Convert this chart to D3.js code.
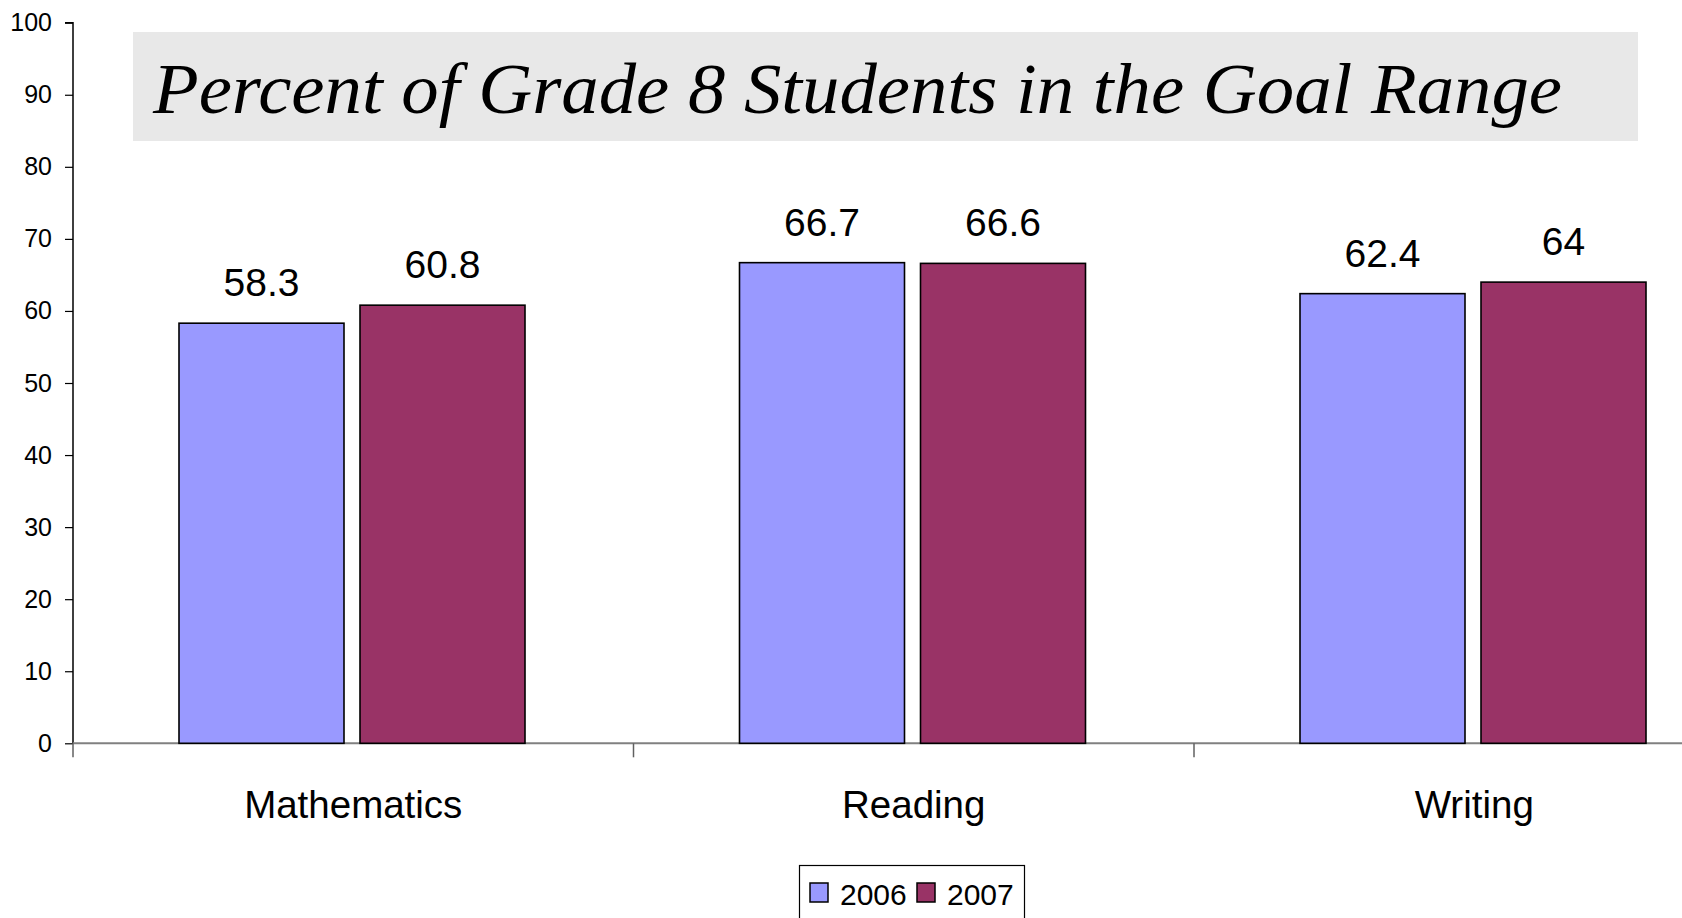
<!DOCTYPE html>
<html>
<head>
<meta charset="utf-8">
<script src="https://cdn.jsdelivr.net/npm/d3@7"></script>
<style>
  html, body { margin: 0; padding: 0; background: #fff; overflow: hidden; }
  svg { display: block; }
</style>
</head>
<body>
<svg id="chart" width="1682" height="918"></svg>
<script>
const categories = ["Mathematics", "Reading", "Writing"];
const seriesNames = ["2006", "2007"];
const values2006 = [58.3, 66.7, 62.4];
const values2007 = [60.8, 66.6, 64];
const valueLabels2006 = ["58.3", "66.7", "62.4"];
const valueLabels2007 = ["60.8", "66.6", "64"];
const yTicks = [0, 10, 20, 30, 40, 50, 60, 70, 80, 90, 100];
const colors = ["#9999FF", "#993366"];
const titleText = "Percent of Grade 8 Students in the Goal Range";

const svg = d3.select("#chart");
const x0 = 73, bandW = 560.5;
const x = d3.scaleBand().domain(categories).range([x0, x0 + bandW * categories.length]).padding(0);
const y = d3.scaleLinear().domain([0, 100]).range([743.3, 22.7]);
const xs = d3.scaleBand().domain(seriesNames).range([106, 106 + 165 * 2 + 16]).paddingInner(16 / 181);

// Title box
svg.append("rect").attr("x", 133).attr("y", 32).attr("width", 1505).attr("height", 109)
  .attr("fill", "#e8e8e8");
svg.append("text").attr("x", 153).attr("y", 113)
  .attr("font-family", "'Liberation Serif', 'Times New Roman', serif")
  .attr("font-style", "italic").attr("font-size", 72).attr("fill", "#000")
  .attr("textLength", 1409).attr("lengthAdjust", "spacingAndGlyphs")
  .text(titleText);

// Y axis
const yAxis = d3.axisLeft(y).tickValues(yTicks).tickSize(8).tickPadding(13).tickFormat(d3.format("d"));
const gy = svg.append("g").attr("transform", `translate(${x0},0)`).call(yAxis);
gy.select(".domain").attr("stroke", "#000").attr("stroke-width", 1.5).attr("d", `M-8,${y(100)}H0V${y(0)}`);
gy.selectAll(".tick line").attr("stroke", "#000").attr("stroke-width", 1.2);
gy.selectAll(".tick text").attr("font-family", "'Liberation Sans', Arial, sans-serif")
  .attr("font-size", 25).attr("fill", "#000");

// X axis
const xAxis = d3.axisBottom(x).tickValues([]).tickSize(0);
const gx = svg.append("g").attr("transform", `translate(0,${y(0)})`).call(xAxis);
gx.select(".domain").attr("stroke", "#808080").attr("stroke-width", 2)
  .attr("d", `M${x0},0H${x0 + bandW * categories.length}`);
const boundaries = d3.range(categories.length + 1).map(i => x0 + bandW * i);
gx.selectAll(".btick").data(boundaries).enter().append("line").attr("class", "btick")
  .attr("x1", d => d).attr("x2", d => d).attr("y1", 0).attr("y2", 14)
  .attr("stroke", "#606060").attr("stroke-width", 1.5);
gx.selectAll(".clabel").data(categories).enter().append("text").attr("class", "clabel")
  .attr("x", d => x(d) + x.bandwidth() / 2).attr("y", 818 - y(0))
  .attr("text-anchor", "middle")
  .attr("font-family", "'Liberation Sans', Arial, sans-serif").attr("font-size", 38.5).attr("fill", "#000")
  .text(d => d);

// Bars
const seriesVals = [values2006, values2007];
const seriesLabels = [valueLabels2006, valueLabels2007];
const data = [];
categories.forEach((c, i) => {
  seriesNames.forEach((s, j) => {
    data.push({ cat: c, series: s, value: seriesVals[j][i], label: seriesLabels[j][i], color: colors[j] });
  });
});
svg.append("g").selectAll("rect").data(data).enter().append("rect")
  .attr("x", d => x(d.cat) + xs(d.series))
  .attr("y", d => y(d.value))
  .attr("width", xs.bandwidth())
  .attr("height", d => y(0) - y(d.value))
  .attr("fill", d => d.color)
  .attr("stroke", "#000").attr("stroke-width", 1.6);

svg.append("g").selectAll("text").data(data).enter().append("text")
  .attr("x", d => x(d.cat) + xs(d.series) + xs.bandwidth() / 2)
  .attr("y", d => y(d.value) - 27)
  .attr("text-anchor", "middle")
  .attr("font-family", "'Liberation Sans', Arial, sans-serif").attr("font-size", 39).attr("fill", "#000")
  .text(d => d.label);

// Legend
const lg = svg.append("g");
lg.append("rect").attr("x", 799.5).attr("y", 865.5).attr("width", 225).attr("height", 80)
  .attr("fill", "#fff").attr("stroke", "#000").attr("stroke-width", 1.2);
const legendX = [810, 917];
seriesNames.forEach((s, j) => {
  lg.append("rect").attr("x", legendX[j]).attr("y", 883).attr("width", 18).attr("height", 19)
    .attr("fill", colors[j]).attr("stroke", "#000").attr("stroke-width", 1.5);
  lg.append("text").attr("x", legendX[j] + 30).attr("y", 905)
    .attr("font-family", "'Liberation Sans', Arial, sans-serif").attr("font-size", 30).attr("fill", "#000")
    .text(s);
});
</script>
</body>
</html>
